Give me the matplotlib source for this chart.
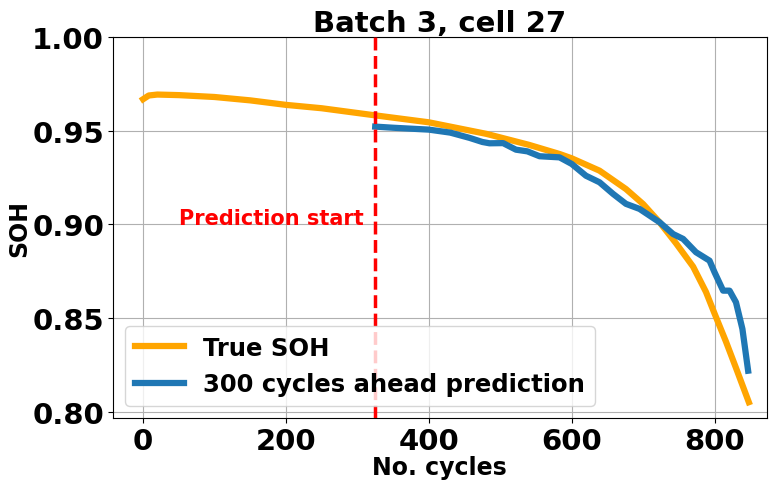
import numpy as np
import matplotlib
matplotlib.use('Agg')
import matplotlib.pyplot as plt

# true SOH curve (cycle, soh)
true_cycles = [0, 8, 20, 50, 100, 150, 200, 250, 317, 400, 481, 540, 583, 600,
               639, 676, 700, 723, 746, 770, 788, 800, 816, 830, 848]
true_soh = [0.9668, 0.9688, 0.9693, 0.9690, 0.9680, 0.9662, 0.9638, 0.9620, 0.9586,
            0.9545, 0.9483, 0.9425, 0.9376, 0.9353, 0.9287, 0.9189, 0.9109, 0.9012,
            0.8900, 0.8775, 0.8640, 0.8525, 0.8375, 0.8235, 0.8052]

# 300 cycles ahead prediction
pred_cycles = [325, 350, 400, 430, 457, 475, 485, 504, 522, 538, 555, 583, 600, 620,
               639, 658, 676, 695, 723, 742, 756, 774, 793, 800, 812, 821, 830,
               839, 847]
pred_soh = [0.9522, 0.9516, 0.9506, 0.9490, 0.9462, 0.9440, 0.9433, 0.9434, 0.9399,
            0.9390, 0.9364, 0.9358, 0.9323, 0.9260, 0.9225, 0.9163, 0.9110, 0.9083,
            0.9012, 0.8949, 0.8923, 0.8852, 0.8807, 0.8745, 0.8647, 0.8647, 0.8585,
            0.8443, 0.8220]

pred_start = 325

plt.rcParams['font.weight'] = 'bold'
fig = plt.figure(figsize=(7.69, 4.81), dpi=100)
ax = fig.add_subplot(111)
fig.subplots_adjust(left=0.147, right=0.997, top=0.921, bottom=0.129)

ax.plot(true_cycles, true_soh, color='orange', lw=4.5, label='True SOH', zorder=3)
ax.plot(pred_cycles, pred_soh, color='tab:blue', lw=4.5,
        label='300 cycles ahead prediction', zorder=3)
ax.axvline(pred_start, color='red', ls='--', lw=2.5, zorder=4)
ax.text(50, 0.9005, 'Prediction start', color='red', fontsize=15, fontweight='bold')

ax.set_xlim(-42, 873)
ax.set_ylim(0.7968, 1.0)
ax.set_xticks([0, 200, 400, 600, 800])
ax.set_yticks([0.80, 0.85, 0.90, 0.95, 1.00])
ax.grid(True)
ax.tick_params(labelsize=21, pad=3)
for lbl in ax.get_xticklabels() + ax.get_yticklabels():
    lbl.set_fontweight('bold')

ax.set_title('Batch 3, cell 27', fontsize=21, fontweight='bold', pad=2)
ax.set_xlabel('No. cycles', fontsize=17, fontweight='bold', labelpad=0)
ax.set_ylabel('SOH', fontsize=17, fontweight='bold', labelpad=1)
ax.legend(loc='lower left', prop={'weight': 'bold', 'size': 17.5})

plt.savefig('out.png', dpi=100)
